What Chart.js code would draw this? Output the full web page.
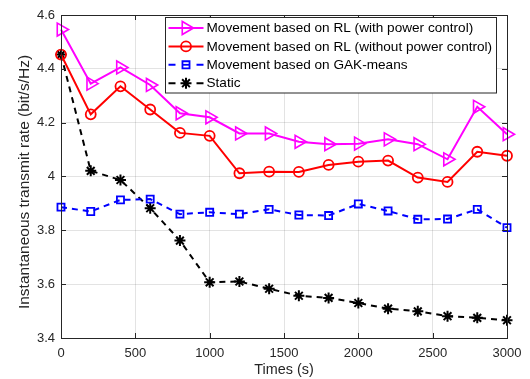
<!DOCTYPE html>
<html>
<head>
<meta charset="utf-8">
<script src="https://cdn.jsdelivr.net/npm/chart.js@4/dist/chart.umd.min.js"></script>
<style>
html,body{margin:0;padding:0;background:#fff;}
#wrap{width:530px;height:379px;position:relative;}
</style>
</head>
<body>
<div id="wrap"><canvas id="c" width="530" height="379"></canvas></div>
<script>
const times = [0,200,400,600,800,1000,1200,1400,1600,1800,2000,2200,2400,2600,2800,3000];
const rlWithPower = [4.546,4.345,4.405,4.340,4.235,4.220,4.160,4.160,4.129,4.120,4.122,4.138,4.120,4.064,4.259,4.157];
const rlWithoutPower = [4.453,4.231,4.335,4.249,4.162,4.151,4.012,4.018,4.017,4.043,4.055,4.059,3.996,3.980,4.092,4.077];
const gakMeans = [3.886,3.870,3.913,3.916,3.860,3.867,3.860,3.878,3.857,3.855,3.898,3.872,3.841,3.842,3.878,3.810];
const staticRate = [4.453,4.021,3.987,3.882,3.762,3.607,3.610,3.583,3.557,3.549,3.530,3.509,3.499,3.481,3.475,3.466];
const seriesLabels = [
  'Movement based on RL (with power control)',
  'Movement based on RL (without power control)',
  'Movement based on GAK-means',
  'Static'
];
const xTitle = 'Times (s)';
const yTitle = 'Instantaneous transmit rate (bit/s/Hz)';
const xTicks = [0,500,1000,1500,2000,2500,3000];
const yTicks = [3.4,3.6,3.8,4.0,4.2,4.4,4.6];
const yTickLabels = ['3.4','3.6','3.8','4','4.2','4.4','4.6'];

const FONT = "'Liberation Sans', Arial, Helvetica, sans-serif";
const AX = '#262626';

function pts(arr){ return arr.map((v,i)=>({x:times[i], y:v})); }

const frameLegend = {
  id:'frameLegend',
  afterDraw(chart){
    const ctx = chart.ctx;
    ctx.save();
    ctx.translate(25, 182);
    ctx.rotate(-Math.PI/2);
    ctx.font = '15.5px ' + FONT;
    ctx.fillStyle = AX;
    ctx.textAlign = 'center'; ctx.textBaseline = 'middle';
    ctx.fillText(yTitle, 0, 0);
    ctx.restore();
  },
  afterDatasetsDraw(chart){
    const ctx = chart.ctx, a = chart.chartArea;
    const xs = chart.scales.x, ys = chart.scales.y;
    ctx.save();
    ctx.strokeStyle = AX; ctx.lineWidth = 1;
    ctx.strokeRect(Math.round(a.left)+0.5, Math.round(a.top)+0.5, Math.round(a.right-a.left), Math.round(a.bottom-a.top));
    ctx.beginPath();
    const tl = 5;
    xTicks.forEach(t=>{
      const px = Math.round(xs.getPixelForValue(t))+0.5;
      ctx.moveTo(px, a.bottom); ctx.lineTo(px, a.bottom-tl);
      ctx.moveTo(px, a.top); ctx.lineTo(px, a.top+tl);
    });
    yTicks.forEach(t=>{
      const py = Math.round(ys.getPixelForValue(t))+0.5;
      ctx.moveTo(a.left, py); ctx.lineTo(a.left+tl, py);
      ctx.moveTo(a.right, py); ctx.lineTo(a.right-tl, py);
    });
    ctx.stroke();

    // legend inside axes (north-east)
    ctx.font = '13.6px ' + FONT;
    const widths = chart.data.datasets.map(d=>ctx.measureText(d.label).width);
    const maxW = Math.max(...widths);
    const sampleW = 35, gapText = 3, padL = 3, padR = 5;
    const boxW = padL + sampleW + gapText + maxW + padR;
    const rowH = 18.4;
    const boxH = 75.5;
    const boxR = a.right - 10.5;
    const boxL = Math.round(boxR - boxW) + 0.5;
    const boxT = Math.round(a.top + 2) + 0.5;
    ctx.fillStyle = '#fff';
    ctx.fillRect(boxL, boxT, boxR - boxL, boxH);
    ctx.strokeStyle = AX; ctx.lineWidth = 1;
    ctx.strokeRect(boxL, boxT, Math.round(boxR - boxL), boxH);
    chart.data.datasets.forEach((d,i)=>{
      const cy = boxT + 10.5 + i*rowH;
      const x0 = boxL + padL, x1 = x0 + sampleW, cx = (x0+x1)/2;
      ctx.strokeStyle = d.borderColor; ctx.lineWidth = d.borderWidth;
      if (d.borderDash) {
        ctx.beginPath(); ctx.moveTo(x0, cy); ctx.lineTo(x0+7, cy); ctx.moveTo(x1-7, cy); ctx.lineTo(x1, cy); ctx.stroke();
      } else {
        ctx.beginPath(); ctx.moveTo(x0, cy); ctx.lineTo(x1, cy); ctx.stroke();
      }
      const o = {pointStyle:d.pointStyle, rotation:d.pointRotation||0, radius:d.pointRadius, borderWidth:d.pointBorderWidth};
      ctx.strokeStyle = d.borderColor; ctx.lineWidth = d.pointBorderWidth;
      ctx.fillStyle = 'rgba(0,0,0,0)';
      Chart.helpers.drawPoint(ctx, o, cx, cy);
      if (d.pointStyle === 'rect') {
        ctx.beginPath(); ctx.moveTo(cx-3.5, cy); ctx.lineTo(cx+3.5, cy); ctx.stroke();
      }
      ctx.fillStyle = '#000';
      ctx.textBaseline = 'middle'; ctx.textAlign = 'left';
      ctx.fillText(d.label, x1 + gapText, cy + 0.5);
    });
    ctx.restore();
  }
};

const common = { tension:0, clip:false, pointBackgroundColor:'rgba(0,0,0,0)' };

const chart = new Chart(document.getElementById('c'), {
  type: 'line',
  data: {
    datasets: [
      Object.assign({ label: seriesLabels[0], data: pts(rlWithPower), borderColor:'#ff00ff', borderWidth:2,
        pointStyle:'triangle', pointRotation:90, pointRadius:7.5, pointBorderWidth:1.6,
        pointBorderColor:'#ff00ff' }, common),
      Object.assign({ label: seriesLabels[1], data: pts(rlWithoutPower), borderColor:'#ff0000', borderWidth:2,
        pointStyle:'circle', pointRadius:5, pointBorderWidth:1.8,
        pointBorderColor:'#ff0000' }, common),
      Object.assign({ label: seriesLabels[2], data: pts(gakMeans), borderColor:'#0000ff', borderWidth:2, borderDash:[6,5],
        pointStyle:'rect', pointRadius:5, pointBorderWidth:1.8,
        pointBorderColor:'#0000ff' }, common),
      Object.assign({ label: seriesLabels[3], data: pts(staticRate), borderColor:'#000000', borderWidth:2, borderDash:[6,5],
        pointStyle:'star', pointRadius:5.5, pointBorderWidth:2,
        pointBorderColor:'#000000' }, common)
    ]
  },
  options: {
    responsive:false, animation:false, devicePixelRatio:1,
    layout:{ padding:{ top:15, right:23, left:0, bottom:0 } },
    plugins:{ legend:{display:false}, tooltip:{enabled:false}, title:{display:false} },
    scales:{
      x:{
        type:'linear', min:0, max:3000,
        afterBuildTicks: s => { s.ticks = xTicks.map(v=>({value:v})); },
        afterFit: s => { s.height = 41; },
        grid:{ color:'rgba(38,38,38,0.13)', drawTicks:false, lineWidth:1 },
        border:{ display:false },
        ticks:{ color:AX, font:{family:FONT, size:13}, padding:8, maxRotation:0,
                callback: v => String(v) },
        title:{ display:true, text:xTitle, color:AX, font:{family:FONT, size:14.4}, padding:{top:0,bottom:0} }
      },
      y:{
        type:'linear', min:3.4, max:4.6,
        afterBuildTicks: s => { s.ticks = yTicks.map(v=>({value:v})); },
        afterFit: s => { s.width = 61; },
        grid:{ color:'rgba(38,38,38,0.13)', drawTicks:false, lineWidth:1 },
        border:{ display:false },
        ticks:{ color:AX, font:{family:FONT, size:13}, padding:6,
                callback: (v) => { const i = yTicks.findIndex(t=>Math.abs(t-v)<1e-6); return i>=0 ? yTickLabels[i] : ''; } },
        title:{ display:false, text:yTitle }
      }
    }
  },
  plugins:[frameLegend]
});
</script>
</body>
</html>
